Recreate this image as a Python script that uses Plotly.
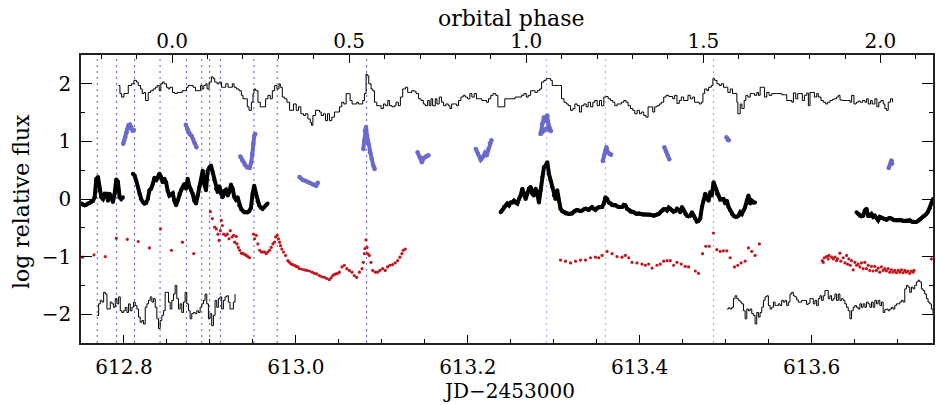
import numpy as np
import plotly.graph_objects as go

# ---------------- data ----------------
# ephemeris used for the top (orbital phase) axis
T0 = 612.856
PERIOD = 0.41207
XMIN, XMAX = 612.75, 613.7413

event_dark = [612.7689, 612.7914, 612.8123, 612.8420, 612.8727, 612.8905,
              612.8997, 612.9122, 612.9512, 612.9783, 613.0823]
event_light = [613.2917, 613.3602, 613.4859]

# binned light curve at top (step histogram): (JD-2453000, log flux)
hist_top = [
    (612.7934, 1.97), (612.7953, 1.83), (612.7973, 1.77), (612.8000, 1.83), (612.8031, 1.83), (612.8050, 1.97),
    (612.8089, 2.00), (612.8116, 2.06), (612.8147, 2.03), (612.8166, 1.97), (612.8193, 1.91), (612.8212, 1.83),
    (612.8232, 1.85), (612.8251, 1.71), (612.8282, 1.85), (612.8309, 1.88), (612.8340, 1.91), (612.8367, 1.94),
    (612.8387, 1.97), (612.8410, 1.88), (612.8429, 2.00), (612.8449, 2.03), (612.8468, 2.00), (612.8495, 1.94),
    (612.8514, 1.91), (612.8534, 1.94), (612.8565, 1.85), (612.8592, 1.83), (612.8619, 1.85), (612.8650, 1.85),
    (612.8677, 1.88), (612.8708, 1.88), (612.8727, 1.94), (612.8747, 1.97), (612.8774, 1.97), (612.8805, 1.94),
    (612.8832, 1.88), (612.8863, 1.88), (612.8890, 1.97), (612.8909, 1.91), (612.8928, 1.97), (612.8952, 2.00),
    (612.8967, 1.91), (612.8990, 2.03), (612.9017, 2.12), (612.9037, 2.09), (612.9056, 2.03), (612.9083, 2.00),
    (612.9106, 2.03), (612.9134, 1.94), (612.9161, 1.94), (612.9184, 2.00), (612.9211, 1.94), (612.9242, 1.94),
    (612.9261, 2.00), (612.9281, 1.94), (612.9308, 1.91), (612.9339, 1.88), (612.9366, 1.80), (612.9385, 1.74),
    (612.9412, 1.74), (612.9435, 1.60), (612.9455, 1.54), (612.9482, 1.68), (612.9501, 1.83), (612.9513, 1.91),
    (612.9532, 1.88), (612.9559, 1.68), (612.9586, 1.60), (612.9617, 1.60), (612.9648, 1.74), (612.9675, 1.80),
    (612.9702, 1.74), (612.9726, 1.88), (612.9753, 1.97), (612.9780, 1.91), (612.9803, 2.00), (612.9819, 1.94),
    (612.9842, 1.77), (612.9869, 1.74), (612.9896, 1.68), (612.9927, 1.54), (612.9954, 1.54), (612.9973, 1.65),
    (613.0004, 1.54), (613.0031, 1.60), (613.0058, 1.48), (613.0089, 1.45), (613.0113, 1.48), (613.0140, 1.39),
    (613.0167, 1.33), (613.0182, 1.28), (613.0198, 1.45), (613.0229, 1.54), (613.0256, 1.54), (613.0275, 1.51),
    (613.0295, 1.45), (613.0322, 1.48), (613.0345, 1.36), (613.0368, 1.48), (613.0391, 1.36), (613.0418, 1.42),
    (613.0449, 1.51), (613.0476, 1.51), (613.0507, 1.60), (613.0534, 1.68), (613.0558, 1.65), (613.0585, 1.83),
    (613.0612, 1.83), (613.0631, 1.71), (613.0654, 1.65), (613.0682, 1.65), (613.0709, 1.68), (613.0728, 1.65),
    (613.0747, 1.65), (613.0778, 1.71), (613.0798, 1.83), (613.0817, 2.17), (613.0829, 2.14), (613.0848, 2.00),
    (613.0875, 1.91), (613.0894, 1.88), (613.0914, 1.68), (613.0941, 1.62), (613.0972, 1.62), (613.0991, 1.57),
    (613.1018, 1.65), (613.1041, 1.62), (613.1069, 1.71), (613.1088, 1.62), (613.1119, 1.60), (613.1146, 1.62),
    (613.1165, 1.68), (613.1192, 1.62), (613.1216, 1.77), (613.1243, 1.91), (613.1274, 1.94), (613.1301, 1.85),
    (613.1320, 1.85), (613.1347, 1.88), (613.1378, 1.87), (613.1398, 1.83), (613.1428, 1.74), (613.1456, 1.71),
    (613.1483, 1.65), (613.1506, 1.62), (613.1533, 1.71), (613.1552, 1.62), (613.1572, 1.74), (613.1591, 1.62),
    (613.1622, 1.74), (613.1641, 1.65), (613.1668, 1.77), (613.1695, 1.68), (613.1719, 1.62), (613.1746, 1.65),
    (613.1773, 1.62), (613.1792, 1.57), (613.1812, 1.65), (613.1843, 1.65), (613.1870, 1.62), (613.1893, 1.71),
    (613.1920, 1.77), (613.1947, 1.80), (613.1970, 1.77), (613.1997, 1.74), (613.2024, 1.83), (613.2048, 1.77),
    (613.2075, 1.83), (613.2102, 1.74), (613.2133, 1.74), (613.2164, 1.71), (613.2191, 1.71), (613.2218, 1.68),
    (613.2241, 1.74), (613.2268, 1.80), (613.2295, 1.83), (613.2326, 1.80), (613.2350, 1.60), (613.2377, 1.60),
    (613.2404, 1.60), (613.2431, 1.74), (613.2462, 1.74), (613.2500, 1.74), (613.2551, 1.77),
    (613.2596, 1.77), (613.2627, 1.80), (613.2654, 1.83), (613.2681, 1.77), (613.2704, 1.80), (613.2732, 1.88),
    (613.2759, 1.88), (613.2782, 1.85), (613.2809, 1.88), (613.2836, 1.91), (613.2859, 2.03), (613.2886, 2.06),
    (613.2913, 2.09), (613.2937, 2.09), (613.2964, 2.06), (613.2983, 1.97), (613.3010, 1.97), (613.3041, 1.97),
    (613.3068, 1.97), (613.3091, 1.74), (613.3119, 1.68), (613.3146, 1.65), (613.3169, 1.62), (613.3196, 1.54),
    (613.3223, 1.57), (613.3246, 1.65), (613.3273, 1.62), (613.3300, 1.51), (613.3324, 1.62), (613.3351, 1.65),
    (613.3378, 1.60), (613.3401, 1.68), (613.3428, 1.60), (613.3455, 1.68), (613.3478, 1.71), (613.3506, 1.62),
    (613.3533, 1.71), (613.3556, 1.62), (613.3583, 1.77), (613.3610, 1.78), (613.3633, 1.74), (613.3660, 1.71),
    (613.3687, 1.68), (613.3711, 1.62), (613.3738, 1.65), (613.3765, 1.65), (613.3788, 1.68), (613.3815, 1.71),
    (613.3842, 1.68), (613.3865, 1.62), (613.3893, 1.57), (613.3920, 1.54), (613.3943, 1.48), (613.3970, 1.54),
    (613.3997, 1.48), (613.4020, 1.51), (613.4047, 1.45), (613.4074, 1.42), (613.4098, 1.60), (613.4125, 1.60),
    (613.4152, 1.51), (613.4175, 1.60), (613.4202, 1.62), (613.4229, 1.65), (613.4252, 1.68), (613.4280, 1.77),
    (613.4307, 1.80), (613.4338, 1.78), (613.4365, 1.78), (613.4384, 1.74), (613.4407, 1.80), (613.4434, 1.66),
    (613.4461, 1.71), (613.4485, 1.77), (613.4512, 1.71), (613.4539, 1.71), (613.4562, 1.80), (613.4589, 1.74),
    (613.4616, 1.77), (613.4639, 1.68), (613.4667, 1.68), (613.4694, 1.65), (613.4717, 1.68), (613.4736, 1.83),
    (613.4756, 1.91), (613.4783, 1.88), (613.4802, 1.94), (613.4833, 1.97), (613.4852, 2.09), (613.4872, 2.06),
    (613.4899, 2.00), (613.4926, 1.97), (613.4949, 2.00), (613.4976, 1.94), (613.5003, 1.94), (613.5026, 1.85),
    (613.5054, 1.91), (613.5081, 1.83), (613.5104, 1.83), (613.5131, 1.68), (613.5143, 1.48), (613.5170, 1.65),
    (613.5189, 1.57), (613.5216, 1.71), (613.5235, 1.80), (613.5259, 1.77), (613.5286, 1.83), (613.5313, 1.83),
    (613.5336, 1.80), (613.5363, 1.85), (613.5383, 1.80), (613.5402, 1.94), (613.5429, 1.94), (613.5452, 1.77),
    (613.5479, 1.85), (613.5506, 1.80), (613.5537, 1.83), (613.5564, 1.83), (613.5595, 1.83), (613.5622, 1.83),
    (613.5653, 1.81), (613.5684, 1.81), (613.5711, 1.71), (613.5739, 1.71), (613.5770, 1.68), (613.5789, 1.84),
    (613.5816, 1.74), (613.5839, 1.83), (613.5866, 1.83), (613.5893, 1.71), (613.5917, 1.80), (613.5944, 1.84),
    (613.5963, 1.62), (613.5982, 1.85), (613.6009, 1.85), (613.6033, 1.77), (613.6060, 1.83), (613.6079, 1.77),
    (613.6110, 1.71), (613.6137, 1.68), (613.6164, 1.65), (613.6187, 1.68), (613.6215, 1.71), (613.6242, 1.73),
    (613.6265, 1.74), (613.6292, 1.77), (613.6311, 1.80), (613.6331, 1.72), (613.6358, 1.71), (613.6389, 1.71),
    (613.6420, 1.71), (613.6447, 1.68), (613.6466, 1.80), (613.6493, 1.65), (613.6520, 1.68), (613.6544, 1.70),
    (613.6567, 1.68), (613.6594, 1.71), (613.6621, 1.68), (613.6640, 1.74), (613.6660, 1.65), (613.6687, 1.71),
    (613.6706, 1.65), (613.6737, 1.74), (613.6760, 1.60), (613.6783, 1.68), (613.6807, 1.71), (613.6834, 1.65),
    (613.6853, 1.57), (613.6872, 1.54), (613.6892, 1.68), (613.6919, 1.74), (613.6942, 1.68),
]

# fast photometry (thick black), uniform cadence
cadence = 0.001935
fast1_t0 = 612.7504
fast1_f = [-0.08, -0.10, -0.11, -0.10, -0.08, -0.07, -0.05, -0.03, 0.03, 0.35,
           0.38, 0.15, 0.03, 0.00, 0.09, 0.09, -0.03, 0.09, 0.03, -0.05,
           0.09, 0.34, 0.30, 0.03, 0.00, 0.03]
fast2_t0 = 612.8103
fast2_f = [0.44, 0.41, 0.32, 0.21, 0.09, 0.00, -0.05, -0.08, -0.07, 0.00,
           0.15, 0.18, 0.26, 0.37, 0.32, 0.37, 0.44, 0.38, 0.29, 0.35,
           0.29, 0.14, 0.06, 0.08, 0.10, -0.03, -0.11, -0.03, 0.09, 0.15,
           0.21, 0.26, 0.18, 0.35, 0.22, 0.16, 0.09, -0.03, -0.08, 0.06,
           0.21, 0.32, 0.49, 0.26, 0.15, 0.49, 0.55, 0.58, 0.47, 0.33,
           0.18, 0.12, 0.22, 0.09, 0.03, 0.14, 0.16, 0.06, 0.12, 0.25,
           0.18, 0.04, -0.01, 0.03, -0.11, -0.17, -0.20, -0.23, -0.23, -0.23,
           -0.21, -0.15, 0.09, 0.23, 0.10, -0.04, -0.11, -0.15, -0.17, -0.14,
           -0.11, -0.08]
fast3_t0 = 613.2383
fast3_f = [-0.23, -0.19, -0.14, -0.11, -0.08, -0.11, -0.06, -0.06, -0.03, -0.06,
           -0.08, 0.00, 0.06, 0.18, 0.09, 0.00, 0.09, 0.18, 0.21, 0.09,
           0.06, 0.18, 0.09, -0.06, 0.15, 0.38, 0.55, 0.58, 0.64, 0.44,
           0.32, 0.21, 0.06, 0.00, 0.15, -0.03, -0.17, -0.21, -0.23, -0.25,
           -0.25, -0.26, -0.25, -0.25, -0.22, -0.20, -0.19, -0.20, -0.21, -0.20,
           -0.18, -0.17, -0.18, -0.19, -0.16, -0.14, -0.17, -0.19, -0.16, -0.14,
           -0.14, -0.14, -0.08, 0.03, 0.00, -0.06, -0.08, -0.11, -0.11, -0.11,
           -0.13, -0.14, -0.14, -0.14, -0.10, -0.11, -0.17, -0.19, -0.22, -0.22,
           -0.23, -0.25, -0.26, -0.25, -0.26, -0.27, -0.27, -0.27, -0.27, -0.27,
           -0.27, -0.28, -0.29, -0.28, -0.27, -0.26, -0.23, -0.20, -0.18, -0.18,
           -0.20, -0.15, -0.17, -0.20, -0.22, -0.21, -0.17, -0.19, -0.23, -0.14,
           -0.20, -0.26, -0.29, -0.30, -0.29, -0.23, -0.29, -0.34, -0.39, -0.38,
           -0.34, -0.14, -0.03, 0.09, 0.03, -0.03, 0.12, 0.06, 0.29, 0.21,
           0.09, 0.06, -0.01, 0.00, 0.00, -0.08, -0.03, -0.14, -0.20, -0.26,
           -0.29, -0.31, -0.31, -0.29, -0.23, -0.26, -0.20, -0.14, -0.03, 0.06,
           -0.08, -0.03, -0.06, -0.06]
fast4_t0 = 613.6523
fast4_f = [-0.23, -0.26, -0.29, -0.30, -0.29, -0.20, -0.17, -0.29, -0.29, -0.26,
           -0.31, -0.29, -0.33, -0.37, -0.31, -0.33, -0.34, -0.35, -0.36, -0.34,
           -0.33, -0.34, -0.36, -0.37, -0.37, -0.37, -0.36, -0.37, -0.38, -0.38,
           -0.38, -0.38, -0.37, -0.39, -0.40, -0.40, -0.40, -0.38, -0.36, -0.34,
           -0.31, -0.29, -0.26, -0.22, -0.16, -0.08, 0.00]

# binned light curve at bottom (step), uniform bins
bottom_dt = 0.001935
bottom1_t0 = 612.7686
bottom1_f = [-2.02, -1.82, -1.76, -1.79, -1.62, -1.65, -1.91, -1.91, -1.79, -1.82,
             -1.88, -1.73, -1.82, -1.70, -1.94, -1.97, -1.94, -1.88, -1.97, -1.82,
             -1.94, -1.88, -1.79, -1.85, -1.91, -2.05, -2.14, -2.11, -2.17, -1.88,
             -1.82, -1.76, -1.70, -1.79, -1.73, -1.88, -2.08, -2.25, -2.11, -2.02,
             -1.94, -1.62, -1.62, -1.79, -1.91, -1.76, -1.65, -1.50, -1.73, -1.91,
             -1.82, -1.97, -1.79, -1.62, -1.82, -1.94, -2.08, -1.99, -1.97, -1.99,
             -1.94, -1.97, -1.88, -1.82, -1.76, -1.65, -1.82, -2.08, -1.99, -2.20,
             -2.02, -1.76, -1.88, -1.73, -1.70, -1.91, -1.76, -1.70, -1.68, -1.79,
             -1.91, -1.91, -1.79, -1.65]
bottom2_t0 = 613.5014
bottom2_f = [-1.91, -1.89, -1.91, -1.88, -1.73, -1.68, -1.73, -1.76, -1.79, -1.82,
             -1.94, -2.08, -1.91, -1.94, -1.91, -1.99, -2.02, -2.17, -1.97, -2.05,
             -1.97, -1.88, -1.76, -1.70, -1.68, -1.85, -1.91, -1.88, -1.79, -1.85,
             -1.85, -1.82, -1.85, -1.76, -1.79, -1.76, -1.85, -1.79, -1.65, -1.62,
             -1.68, -1.70, -1.75, -1.79, -1.79, -1.76, -1.76, -1.76, -1.83, -1.81,
             -1.73, -1.73, -1.82, -1.76, -1.85, -1.73, -1.68, -1.76, -1.68, -1.59,
             -1.59, -1.73, -1.68, -1.76, -1.73, -1.65, -1.76, -1.65, -1.76, -1.73,
             -1.76, -1.82, -1.88, -1.94, -2.08, -1.94, -1.88, -1.85, -1.88, -1.91,
             -1.82, -1.88, -1.82, -1.88, -1.79, -1.82, -1.88, -1.79, -1.88, -1.76,
             -1.82, -1.76, -1.85, -1.79, -1.97, -1.92, -1.91, -1.94, -1.91, -1.88,
             -1.91, -1.85, -1.82, -1.82, -1.79, -1.76, -1.79, -1.56, -1.50, -1.53,
             -1.62, -1.53, -1.56, -1.50, -1.44, -1.41, -1.44, -1.56, -1.59, -1.65,
             -1.73, -1.79, -1.82, -1.91, -1.99]

# red points: (JD-2453000, log flux)
red_pts = [
    (612.7519, -1.01), (612.7651, -0.97), (612.7783, -1.00), (612.7910, -0.68), (612.8038, -0.70),
    (612.8166, -0.74), (612.8297, -0.85), (612.8425, -0.52), (612.8552, -0.89), (612.8680, -0.75),
    (612.8812, -0.95),
    (612.9005, -0.22), (612.9028, -0.34), (612.9055, -0.49), (612.9075, -0.52), (612.9094, -0.61),
    (612.9106, -0.72), (612.9121, -0.55), (612.9133, -0.37), (612.9144, -0.46), (612.9160, -0.61),
    (612.9183, -0.63), (612.9202, -0.61), (612.9222, -0.69), (612.9237, -0.55), (612.9257, -0.66),
    (612.9276, -0.63), (612.9288, -0.75), (612.9307, -0.65), (612.9315, -0.78), (612.9330, -0.84),
    (612.9346, -0.89), (612.9365, -0.94), (612.9384, -0.95), (612.9404, -0.96), (612.9423, -0.98),
    (612.9442, -1.00), (612.9462, -1.02),
    (612.9508, -0.61), (612.9520, -0.69), (612.9539, -0.63), (612.9558, -0.78), (612.9578, -0.89),
    (612.9597, -0.92), (612.9617, -0.92), (612.9636, -0.92), (612.9655, -0.95), (612.9675, -0.92),
    (612.9694, -0.89), (612.9713, -0.84), (612.9733, -0.78), (612.9752, -0.75), (612.9764, -0.66),
    (612.9783, -0.63), (612.9798, -0.69), (612.9810, -0.75), (612.9822, -0.81), (612.9837, -0.87),
    (612.9856, -0.92), (612.9880, -0.98), (612.9907, -1.07), (612.9926, -1.10), (612.9945, -1.13),
    (612.9965, -1.14), (612.9984, -1.15), (613.0003, -1.17), (613.0023, -1.18),
    (613.0042, -1.21), (613.0073, -1.22), (613.0100, -1.23), (613.0127, -1.24), (613.0158, -1.25),
    (613.0189, -1.27), (613.0216, -1.29), (613.0243, -1.30), (613.0274, -1.33), (613.0301, -1.35),
    (613.0332, -1.36), (613.0359, -1.38), (613.0390, -1.40), (613.0410, -1.37), (613.0429, -1.33),
    (613.0448, -1.31), (613.0468, -1.30), (613.0487, -1.29), (613.0506, -1.27), (613.0537, -1.18),
    (613.0564, -1.15), (613.0592, -1.21), (613.0622, -1.24), (613.0653, -1.27), (613.0681, -1.33),
    (613.0708, -1.36), (613.0739, -1.27), (613.0770, -1.21), (613.0785, -1.10), (613.0797, -0.95),
    (613.0804, -0.86), (613.0816, -0.71), (613.0828, -0.84), (613.0835, -0.95), (613.0855, -0.98),
    (613.0874, -1.10), (613.0893, -1.24), (613.0924, -1.27), (613.0951, -1.27), (613.0978, -1.24),
    (613.1009, -1.21), (613.1040, -1.24), (613.1067, -1.18), (613.1094, -1.15), (613.1125, -1.14),
    (613.1156, -1.11), (613.1184, -1.07), (613.1211, -1.01), (613.1234, -0.95), (613.1249, -0.89),
    (613.1273, -0.87),
    (613.3079, -1.06), (613.3137, -1.08), (613.3196, -1.11), (613.3254, -1.08), (613.3312, -1.06),
    (613.3370, -1.06), (613.3428, -1.02), (613.3486, -1.01), (613.3524, -1.02), (613.3563, -0.98),
    (613.3621, -0.91), (613.3679, -0.95), (613.3737, -1.00), (613.3795, -1.01), (613.3834, -0.98),
    (613.3873, -1.02), (613.3911, -1.10), (613.3969, -1.11), (613.4027, -1.13), (613.4066, -1.15),
    (613.4105, -1.13), (613.4144, -1.20), (613.4202, -1.15), (613.4240, -1.13), (613.4279, -1.08),
    (613.4318, -1.07), (613.4356, -1.07), (613.4395, -1.15), (613.4434, -1.10), (613.4484, -1.13),
    (613.4530, -1.17), (613.4569, -1.18), (613.4647, -1.25), (613.4685, -1.29), (613.4732, -0.95),
    (613.4770, -0.82), (613.4809, -0.82), (613.4859, -0.59), (613.4898, -0.88), (613.4937, -0.91),
    (613.4975, -0.90), (613.5014, -0.90), (613.5053, -1.02), (613.5103, -1.18), (613.5142, -1.15),
    (613.5180, -1.11), (613.5227, -1.08), (613.5266, -0.85), (613.5304, -0.91), (613.5343, -0.98),
    (613.5393, -0.78),
    (613.6125, -1.07), (613.6148, -1.02), (613.6175, -1.00), (613.6202, -0.98), (613.6233, -1.01),
    (613.6272, -1.01), (613.6303, -1.04), (613.6330, -0.94), (613.6368, -1.02), (613.6407, -0.98),
    (613.6434, -1.04), (613.6465, -1.07), (613.6504, -1.10), (613.6542, -1.13), (613.6581, -1.11),
    (613.6620, -1.10), (613.6659, -1.15), (613.6697, -1.17), (613.6736, -1.17), (613.6775, -1.20),
    (613.6813, -1.18), (613.6852, -1.21), (613.6891, -1.21), (613.6929, -1.23), (613.6968, -1.24),
    (613.7007, -1.24), (613.7045, -1.23), (613.7084, -1.24), (613.7123, -1.25), (613.7162, -1.25),
    (613.7192, -1.24),
    (613.6136, -1.10), (613.6194, -1.04), (613.6252, -1.04), (613.6291, -1.07), (613.6341, -1.08),
    (613.6388, -1.11), (613.6419, -1.13), (613.6450, -1.15), (613.6484, -1.23), (613.6523, -1.15),
    (613.6562, -1.18), (613.6600, -1.21), (613.6639, -1.21), (613.6678, -1.24), (613.6717, -1.25),
    (613.6755, -1.24), (613.6794, -1.27), (613.6833, -1.24), (613.6871, -1.25), (613.6910, -1.27),
    (613.6949, -1.27), (613.6987, -1.28), (613.7026, -1.27), (613.7065, -1.28), (613.7103, -1.27),
    (613.7142, -1.29), (613.7181, -1.27),
    (613.7394, -1.04),
]

# blue segments: (JD-2453000, log flux)
blue_segments = [
    [(612.7991, 0.96), (612.8003, 1.02), (612.8015, 1.07), (612.8030, 1.16), (612.8042, 1.22),
     (612.8053, 1.28), (612.8069, 1.29), (612.8084, 1.25), (612.8100, 1.19), (612.8115, 1.20)],
    [(612.8719, 1.29), (612.8734, 1.22), (612.8750, 1.16), (612.8765, 1.13), (612.8785, 1.10),
     (612.8804, 1.04), (612.8823, 0.97), (612.8843, 0.90)],
    [(612.9353, 0.74), (612.9377, 0.67), (612.9404, 0.60), (612.9431, 0.55), (612.9462, 0.54),
     (612.9481, 0.64), (612.9493, 0.78), (612.9504, 0.96), (612.9516, 1.10), (612.9527, 1.13)],
    [(613.0042, 0.38), (613.0081, 0.33), (613.0120, 0.31), (613.0158, 0.28), (613.0197, 0.25),
     (613.0236, 0.23), (613.0255, 0.28)],
    [(613.0785, 0.87), (613.0797, 1.02), (613.0804, 1.19), (613.0816, 1.25), (613.0828, 1.10),
     (613.0843, 0.96), (613.0862, 0.81), (613.0882, 0.70), (613.0901, 0.58), (613.0917, 0.52)],
    [(613.1416, 0.81), (613.1443, 0.73), (613.1466, 0.64), (613.1489, 0.71), (613.1512, 0.74),
     (613.1543, 0.76)],
    [(613.2093, 0.87), (613.2120, 0.78), (613.2151, 0.68), (613.2178, 0.73), (613.2201, 0.80),
     (613.2221, 0.76), (613.2240, 0.87), (613.2259, 0.97), (613.2275, 1.02)],
    [(613.2847, 1.13), (613.2867, 1.31), (613.2886, 1.42), (613.2905, 1.36), (613.2925, 1.45),
     (613.2936, 1.31), (613.2952, 1.22), (613.2967, 1.18), (613.2913, 1.22), (613.2867, 1.16)],
    [(613.3571, 0.66), (613.3586, 0.76), (613.3602, 0.84), (613.3613, 0.90), (613.3629, 0.81),
     (613.3652, 0.78), (613.3668, 0.77)],
    [(613.4287, 0.90), (613.4306, 0.83), (613.4325, 0.76), (613.4345, 0.69)],
    [(613.5010, 1.07), (613.5026, 1.03), (613.5037, 1.02)],
    [(613.6898, 0.54), (613.6914, 0.60), (613.6929, 0.67), (613.6937, 0.61)],
]

# ---------------- build figure ----------------
SERIF = "DejaVu Serif"


def uniform(t0, vals, dt):
    return list(t0 + dt * np.arange(len(vals))), list(vals)


def join_segments(segs):
    xs, ys = [], []
    for tx, fy in segs:
        xs += list(tx) + [None]
        ys += list(fy) + [None]
    return xs, ys


def phase(t):
    return (t - T0) / PERIOD


fig = go.Figure()

ht, hf = zip(*hist_top)
fig.add_trace(go.Scatter(x=ht, y=hf, mode="lines",
                         line=dict(color="black", width=1, shape="hv"),
                         hoverinfo="skip", showlegend=False))

bx, by = join_segments([zip(*s) for s in blue_segments])
fig.add_trace(go.Scatter(x=bx, y=by, mode="lines+markers",
                         line=dict(color="#6a6acc", width=4),
                         marker=dict(color="#6a6acc", size=4.5),
                         hoverinfo="skip", showlegend=False))

fx, fy = join_segments([uniform(fast1_t0, fast1_f, cadence),
                        uniform(fast2_t0, fast2_f, cadence),
                        uniform(fast3_t0, fast3_f, cadence),
                        uniform(fast4_t0, fast4_f, cadence)])
fig.add_trace(go.Scatter(x=fx, y=fy, mode="lines+markers",
                         line=dict(color="black", width=4),
                         marker=dict(color="black", size=4),
                         hoverinfo="skip", showlegend=False))

rt, rf = zip(*red_pts)
fig.add_trace(go.Scatter(x=rt, y=rf, mode="markers",
                         marker=dict(color="#c4161c", size=3.2),
                         hoverinfo="skip", showlegend=False))

lx, ly = join_segments([uniform(bottom1_t0, bottom1_f, bottom_dt),
                        uniform(bottom2_t0, bottom2_f, bottom_dt)])
fig.add_trace(go.Scatter(x=lx, y=ly, mode="lines",
                         line=dict(color="black", width=1, shape="hv"),
                         hoverinfo="skip", showlegend=False))

# invisible trace on the phase axis so it is drawn
fig.add_trace(go.Scatter(x=[phase(XMIN), phase(XMAX)], y=[-3, -3], xaxis="x2",
                         mode="markers", marker=dict(opacity=0),
                         hoverinfo="skip", showlegend=False))

shapes = []
for t in event_dark:
    shapes.append(dict(type="line", xref="x", yref="paper", x0=t, x1=t, y0=0, y1=1,
                       line=dict(color="#5c5cd6", width=1, dash="2px,4px"), layer="below"))
for t in event_light:
    shapes.append(dict(type="line", xref="x", yref="paper", x0=t, x1=t, y0=0, y1=1,
                       line=dict(color="#a8a8ee", width=1, dash="2px,4px"), layer="below"))

tickfont = dict(family=SERIF, size=20, color="black")
common = dict(showgrid=False, zeroline=False, showline=True, linecolor="#222",
              linewidth=1.5, ticks="inside", tickcolor="black", tickwidth=1,
              tickfont=tickfont)

fig.update_layout(
    width=936, height=405,
    margin=dict(l=81, r=1, t=55, b=62),
    paper_bgcolor="white", plot_bgcolor="white",
    font=dict(family=SERIF, color="black"),
    shapes=shapes,
    xaxis=dict(range=[XMIN, XMAX], tick0=612.8, dtick=0.2, tickformat=".1f",
               ticklen=8, ticklabelstandoff=5,
               minor=dict(ticks="inside", ticklen=4, dtick=0.05, tick0=612.8,
                          tickcolor="black", showgrid=False),
               **common),
    xaxis2=dict(overlaying="x", side="top", anchor="y",
                range=[phase(XMIN), phase(XMAX)], tick0=0, dtick=0.5, tickformat=".1f",
                ticklen=8, ticklabelstandoff=-3,
                minor=dict(ticks="inside", ticklen=4, dtick=0.1, tick0=0,
                           tickcolor="black", showgrid=False),
                **common),
    yaxis=dict(range=[-2.5, 2.5], tick0=0, dtick=1, ticklen=11, mirror="ticks",
               ticklabelstandoff=4,
               minor=dict(ticks="inside", ticklen=4, dtick=0.5, tick0=0,
                          tickcolor="black", showgrid=False),
               **common),
    annotations=[
        dict(text="orbital phase", xref="paper", yref="paper", x=0.505, y=1.128,
             xanchor="center", yanchor="middle", showarrow=False,
             font=dict(family=SERIF, size=22, color="black")),
        dict(text="JD\u22122453000", xref="paper", yref="paper", x=0.502, y=-0.168,
             xanchor="center", yanchor="middle", showarrow=False,
             font=dict(family=SERIF, size=20, color="black")),
        dict(text="log relative flux", xref="paper", yref="paper", x=-0.069, y=0.49,
             xanchor="center", yanchor="middle", showarrow=False, textangle=-90,
             font=dict(family=SERIF, size=22, color="black")),
    ],
)

fig.write_html("out.html")
